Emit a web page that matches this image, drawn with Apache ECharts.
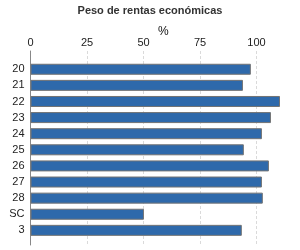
<!DOCTYPE html>
<html>
<head>
<meta charset="utf-8">
<script src="https://cdn.jsdelivr.net/npm/echarts@6/dist/echarts.min.js"></script>
<style>
  html, body { margin: 0; padding: 0; background: #fff; }
  #chart { width: 300px; height: 250px; }
</style>
</head>
<body>
<div id="chart"></div>
<script>
const categories = ['20', '21', '22', '23', '24', '25', '26', '27', '28', 'SC', '3'];
const values = [97.5, 94.0, 110.4, 106.4, 102.4, 94.4, 105.5, 102.4, 102.8, 50.2, 93.5];
const xTicks = [0, 25, 50, 75, 100];

const font = 'Liberation Sans, Arial, sans-serif';
const chart = echarts.init(document.getElementById('chart'), null, { renderer: 'canvas' });

const options = {
  animation: false,
  title: [{
    text: 'Peso de rentas económicas',
    left: 'center',
    top: 0,
    textStyle: { fontFamily: font, fontSize: 11, fontWeight: 'bold', color: '#333' }
  }, {
    text: '%',
    left: 153,
    top: 21,
    textStyle: { fontFamily: font, fontSize: 12, fontWeight: 'normal', color: '#111' }
  }],
  grid: [
    // outer frame: axis line, tick labels, dashed split lines
    { left: 30.5, right: -13, top: 51, bottom: 5, outerBoundsMode: 'none' },
    // inner area: the bars
    { left: 30.5, right: -13, top: 61.2, bottom: 11.6, outerBoundsMode: 'none' }
  ],
  xAxis: [{
    gridIndex: 0,
    type: 'value',
    position: 'top',
    min: 0,
    max: 125,
    interval: 25,
    axisLine: { show: false },
    axisTick: { show: false },
    axisLabel: {
      margin: 3,
      fontFamily: font,
      fontSize: 11,
      color: '#222',
      formatter: v => xTicks.indexOf(v) >= 0 ? String(v) : ''
    },
    splitLine: { lineStyle: { color: '#dadada', type: [3, 2] } }
  }, {
    gridIndex: 1,
    type: 'value',
    min: 0,
    max: 125,
    show: false
  }],
  yAxis: [{
    gridIndex: 0,
    type: 'value',
    axisLine: { show: true, lineStyle: { color: '#888', width: 1 } },
    axisTick: { show: false },
    axisLabel: { show: false },
    splitLine: { show: false }
  }, {
    gridIndex: 1,
    type: 'category',
    inverse: true,
    data: categories,
    axisLine: { show: false },
    axisTick: { show: false },
    axisLabel: { margin: 6, fontFamily: font, fontSize: 11, color: '#222' }
  }],
  series: [{
    type: 'bar',
    xAxisIndex: 1,
    yAxisIndex: 1,
    data: values,
    barWidth: 11,
    itemStyle: { color: '#2e69ab', borderColor: '#747474', borderWidth: 1 }
  }]
};

chart.setOption(options);
</script>
</body>
</html>
